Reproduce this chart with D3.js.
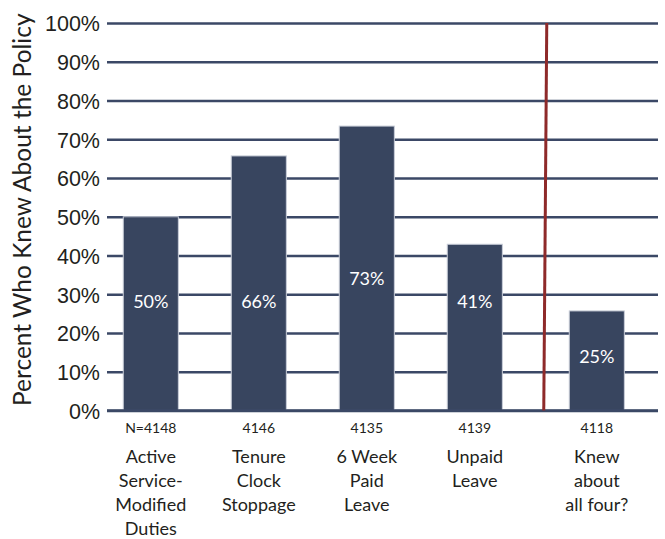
<!DOCTYPE html>
<html>
<head>
<meta charset="utf-8">
<script src="https://cdn.jsdelivr.net/npm/d3@7"></script>
<style>
  body { margin: 0; background: #fff; }
  svg { font-family: Lato, "Open Sans", sans-serif; }
</style>
</head>
<body>
<div id="chart"></div>
<script>
// data
var categories = [
  ["Active", "Service-", "Modified", "Duties"],
  ["Tenure", "Clock", "Stoppage"],
  ["6 Week", "Paid", "Leave"],
  ["Unpaid", "Leave"],
  ["Knew", "about", "all four?"]
]
var nLabels = ["N=4148", "4146", "4135", "4139", "4118"]
var values = [50, 65.7, 73.4, 42.9, 25.7]
var valueLabels = ["50%", "66%", "73%", "41%", "25%"]
// level (in percent units) where each value label sits inside its bar
var valueLabelAt = [28, 28, 34, 28, 14]
var yTicks = [0, 10, 20, 30, 40, 50, 60, 70, 80, 90, 100]
var yTitle = "Percent Who Knew About the Policy"

var W = 665, H = 539
var padding = { left: 107, right: 658, top: 23, bottom: 410.5 }

var svg = d3.select("#chart").append("svg")
  .attr("width", W)
  .attr("height", H)

var y = d3.scaleLinear().domain([0, 100]).range([padding.bottom, padding.top])

var x = d3.scaleBand()
  .domain(d3.range(categories.length))
  .range([96.8, 636.8])
  .paddingInner(0.49)
  .paddingOuter(0.245)

// last group sits a bit further right, past the divider
var dividerAfter = 3
var extraGap = 14
function xPos(i) { return x(i) + (i > dividerAfter ? extraGap : 0) }

// gridlines + tick labels
var yAxis = d3.axisLeft(y)
  .tickValues(yTicks)
  .tickSize(-(padding.right - padding.left))
  .tickPadding(7)
  .tickFormat(function(d) { return d + "%" })

var ga = svg.append("g")
  .attr("transform", "translate(" + padding.left + ",0)")
  .call(yAxis)
ga.select(".domain").remove()
ga.selectAll(".tick line")
  .attr("stroke", "#3b4866")
  .attr("stroke-width", 2.3)
ga.selectAll(".tick text")
  .attr("fill", "#231f20")
  .attr("font-size", "21.5px")
  .attr("dy", "0.36em")

// bars
svg.append("g").selectAll("rect")
  .data(values)
  .enter()
  .append("rect")
  .attr("x", function(d, i) { return xPos(i) })
  .attr("y", function(d) { return y(d) })
  .attr("width", x.bandwidth())
  .attr("height", function(d) { return y(0) - y(d) })
  .attr("fill", "#38455f")
  .attr("stroke", "#c9ced8")
  .attr("stroke-width", 1)

// baseline on top
svg.append("line")
  .attr("x1", padding.left).attr("x2", padding.right)
  .attr("y1", y(0)).attr("y2", y(0))
  .attr("stroke", "#3b4866")
  .attr("stroke-width", 2.3)

// value labels
svg.append("g").selectAll("text")
  .data(valueLabels)
  .enter()
  .append("text")
  .attr("x", function(d, i) { return xPos(i) + x.bandwidth() / 2 })
  .attr("y", function(d, i) { return y(valueLabelAt[i]) })
  .attr("dy", "0.36em")
  .attr("text-anchor", "middle")
  .attr("fill", "#fff")
  .attr("font-size", "18px")
  .text(function(d) { return d })

// red divider
var dx = xPos(dividerAfter + 1) - 24
svg.append("line")
  .attr("x1", dx + 1.5).attr("y1", y(100))
  .attr("x2", dx - 1.5).attr("y2", y(0))
  .attr("stroke", "#8e2a2a")
  .attr("stroke-width", 3)

// N labels
svg.append("g").selectAll("text")
  .data(nLabels)
  .enter()
  .append("text")
  .attr("x", function(d, i) { return xPos(i) + x.bandwidth() / 2 })
  .attr("y", 433)
  .attr("text-anchor", "middle")
  .attr("fill", "#231f20")
  .attr("font-size", "14px")
  .text(function(d) { return d })

// category labels
var cat = svg.append("g").selectAll("text")
  .data(categories)
  .enter()
  .append("text")
  .attr("text-anchor", "middle")
  .attr("fill", "#231f20")
  .attr("font-size", "18px")
  .attr("transform", function(d, i) {
    return "translate(" + (xPos(i) + x.bandwidth() / 2) + ",463)"
  })
cat.selectAll("tspan")
  .data(function(d) { return d })
  .enter()
  .append("tspan")
  .attr("x", 0)
  .attr("y", function(d, i) { return i * 24 })
  .text(function(d) { return d })

// y title
svg.append("text")
  .attr("transform", "translate(31," + ((padding.top + padding.bottom) / 2 - 7) + ") rotate(-90)")
  .attr("text-anchor", "middle")
  .attr("fill", "#231f20")
  .attr("font-size", "24.5px")
  .text(yTitle)
</script>
</body>
</html>
